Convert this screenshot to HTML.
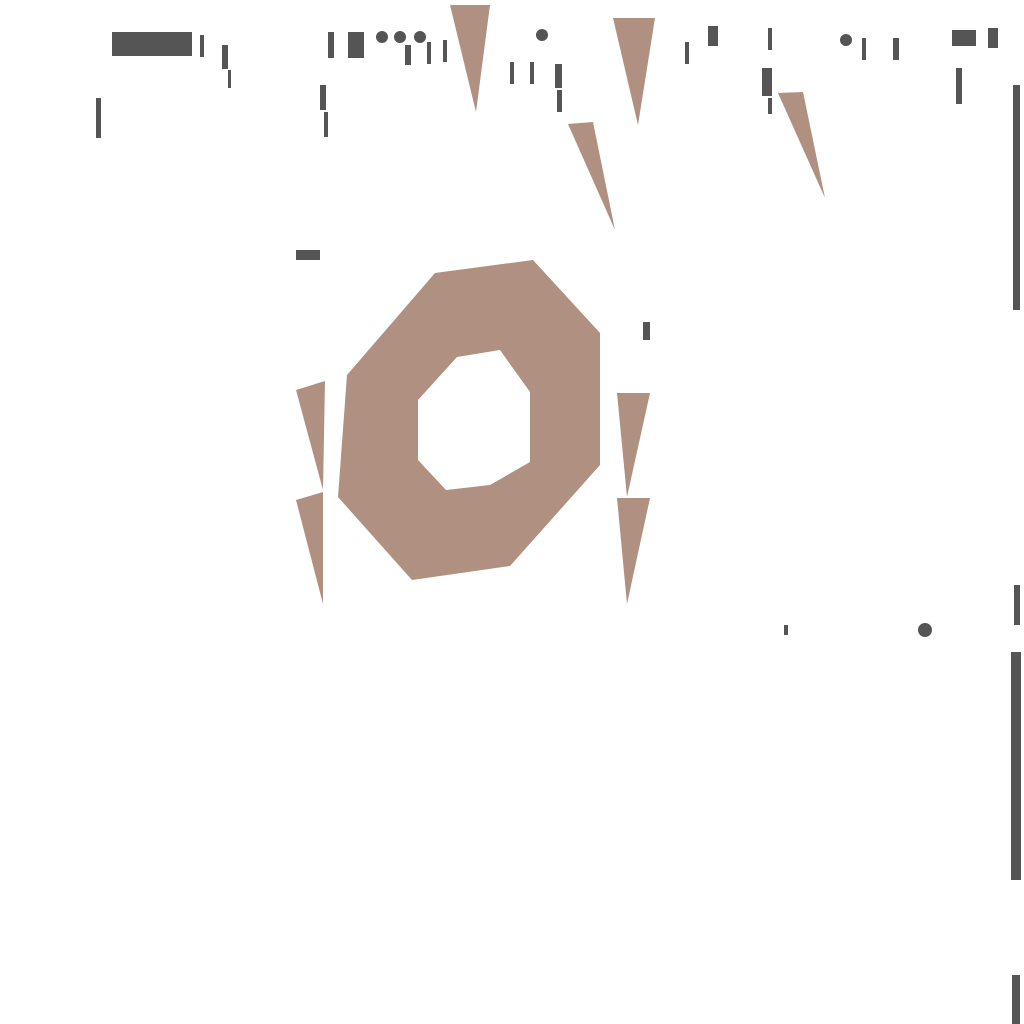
<!DOCTYPE html>
<html><head><meta charset="utf-8"><style>
html,body{margin:0;padding:0;background:#fff;width:1024px;height:1024px;overflow:hidden}
svg{display:block}
</style></head><body>
<svg width="1024" height="1024" viewBox="0 0 1024 1024">
<rect x="0" y="0" width="1024" height="1024" fill="#fff"/>
<g fill="#b09080">
<path fill-rule="evenodd" d="M435,273 L533,260 L600,333 L600,465 L510,566 L412,580 L338,497 L347,375 Z M457,357 L500,350 L530,392 L530,462 L490,485 L446,490 L418,460 L418,400 Z"/>
<polygon points="450,5 490,5 476,112"/>
<polygon points="613,18 655,18 638,125"/>
<polygon points="568,124 593,122 615,230"/>
<polygon points="778,93 803,92 825,198"/>
<polygon points="296,390 325,381 323,490"/>
<polygon points="296,500 323,492 323,604"/>
<polygon points="617,393 650,393 627,497"/>
<polygon points="617,498 650,498 627,604"/>
</g>
<g fill="#555">
<rect x="112" y="32" width="80" height="24"/>
<rect x="200" y="35" width="4" height="22"/>
<rect x="222" y="45" width="6" height="24"/>
<rect x="228" y="70" width="3" height="18"/>
<rect x="96" y="98" width="5" height="40"/>
<rect x="328" y="32" width="6" height="26"/>
<rect x="348" y="32" width="16" height="26"/>
<circle cx="382" cy="37" r="6"/>
<circle cx="400" cy="37" r="6"/>
<circle cx="420" cy="37" r="6"/>
<rect x="405" y="45" width="6" height="20"/>
<rect x="427" y="42" width="4" height="22"/>
<rect x="443" y="40" width="4" height="22"/>
<rect x="320" y="85" width="6" height="25"/>
<rect x="324" y="112" width="4" height="25"/>
<rect x="510" y="62" width="4" height="22"/>
<rect x="530" y="62" width="4" height="22"/>
<rect x="555" y="64" width="7" height="24"/>
<rect x="557" y="90" width="5" height="22"/>
<circle cx="542" cy="35" r="6"/>
<rect x="685" y="42" width="4" height="22"/>
<rect x="708" y="26" width="10" height="20"/>
<rect x="768" y="28" width="4" height="22"/>
<rect x="762" y="68" width="10" height="28"/>
<rect x="768" y="98" width="4" height="16"/>
<circle cx="846" cy="40" r="6"/>
<rect x="862" y="38" width="4" height="22"/>
<rect x="893" y="38" width="6" height="22"/>
<rect x="952" y="30" width="24" height="16"/>
<rect x="988" y="28" width="10" height="20"/>
<rect x="956" y="68" width="6" height="36"/>
<rect x="1013" y="85" width="7" height="225"/>
<rect x="1014" y="585" width="6" height="40"/>
<rect x="1011" y="652" width="10" height="228"/>
<rect x="1012" y="975" width="8" height="49"/>
<rect x="296" y="250" width="24" height="10"/>
<rect x="643" y="322" width="7" height="18"/>
<circle cx="925" cy="630" r="7"/>
<rect x="784" y="625" width="4" height="10"/>
</g>
</svg>
</body></html>
